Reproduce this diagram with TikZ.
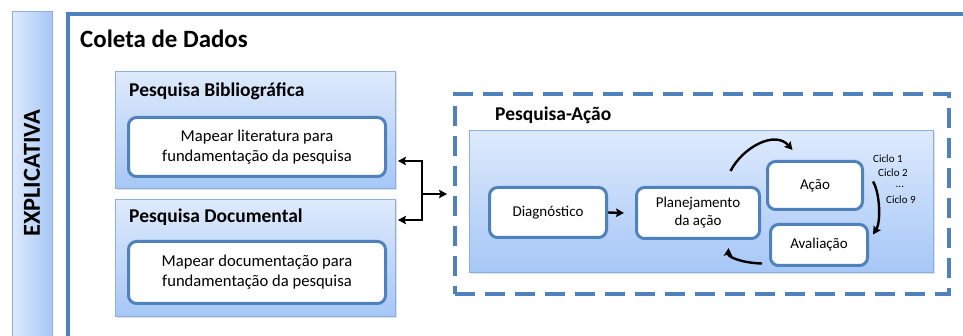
\documentclass[tikz,border=0pt]{standalone}
\usepackage{fontspec}
\setmainfont{Carlito}
\usetikzlibrary{arrows.meta,calc,shadows}
\definecolor{oblue}{RGB}{79,129,189}
\definecolor{lblue}{RGB}{141,176,222}
\definecolor{gtop}{RGB}{222,234,252}
\definecolor{gbot}{RGB}{166,199,246}
\newcommand{\myfs}[2]{\fontsize{#1pt}{#2pt}\selectfont}
\begin{document}
\begin{tikzpicture}[x=1pt,y=-1pt,
  panel/.style={draw=lblue, line width=1pt, top color=gtop, bottom color=gbot,
    drop shadow={shadow xshift=1.5pt, shadow yshift=-2pt, opacity=0.25},
    anchor=north west, inner sep=0pt},
  wbox/.style={draw=oblue, line width=3pt, fill=white, rounded corners=8pt,
    align=center, anchor=north west, inner sep=2pt},
  ttl/.style={anchor=base west, inner sep=0pt, font=\bfseries\myfs{19.5}{23}},
  body/.style={font=\myfs{16.6}{20}},
  small/.style={font=\myfs{15}{18}},
  cyc/.style={anchor=base west, inner sep=0pt, font=\myfs{11}{13}},
  arr/.style={-{Stealth[length=8pt,width=8.5pt,inset=1.5pt]}, line width=2.4pt, black}
]
\useasboundingbox (0,0) rectangle (963,336);

% left bar
\node[draw=lblue, line width=1pt, left color=gtop, right color=gbot, anchor=north west,
  minimum width=40pt, minimum height=340pt, inner sep=0pt] (expl) at (12,11) {};
\node[rotate=90, inner sep=0pt, font=\bfseries\myfs{24.4}{28}] (explt) at (32,173) {EXPLICATIVA};

% outer frame
\node[draw=oblue, line width=3.5pt, anchor=north west, minimum width=950pt,
  minimum height=360pt, inner sep=0pt] (coleta) at (66,12.5) {};
\node[anchor=base west, inner sep=0pt, font=\bfseries\myfs{24.9}{28}] (coletat) at (80,48) {Coleta de Dados};

% Pesquisa Bibliografica
\node[panel, minimum width=280pt, minimum height=117pt] (bib) at (115,71) {};
\node[ttl] (bibl) at (129,97) {Pesquisa Bibliográfica};
\node[wbox, body, minimum width=257pt, minimum height=59pt] (bibt) at (127,116)
  {Mapear literatura para\\fundamentação da pesquisa};

% Pesquisa Documental
\node[panel, minimum width=280pt, minimum height=117pt] (doc) at (115,199) {};
\node[ttl] (docl) at (129,223) {Pesquisa Documental};
\node[wbox, body, minimum width=257pt, minimum height=62pt] (doct) at (127,240)
  {Mapear documentação para\\fundamentação da pesquisa};

% Pesquisa-Acao dashed frame
\node[draw=oblue, line width=4pt, dash pattern=on 20pt off 10pt, anchor=north west,
  minimum width=494pt, minimum height=200pt, inner sep=0pt] (pa) at (453,92) {};
\node[ttl] (pal) at (495,121) {Pesquisa-Ação};
\node[panel, minimum width=464pt, minimum height=142pt] (pap) at (469,130) {};

\node[wbox, small, minimum width=117pt, minimum height=50pt] (diag) at (488,186) {Diagnóstico};
\node[wbox, small, minimum width=123pt, minimum height=51pt] (plan) at (635,186) {Planejamento\\da ação};
\node[wbox, small, minimum width=95pt, minimum height=48pt] (acao) at (766,160) {Ação};
\node[wbox, small, minimum width=97pt, minimum height=41pt] (aval) at (769,223) {Avaliação};

\node[cyc] (c1) at (873,163) {Ciclo 1};
\node[cyc] (c2) at (878,176.5) {Ciclo 2};
\node[cyc] (c3) at (895.5,188) {...};
\node[cyc] (c9) at (886,203.5) {Ciclo 9};

% connectors left
\coordinate (jn) at (422,194);
\draw[arr] (jn) |- ($(bib.east)+(2,31)$);
\draw[arr] (jn) |- ($(doc.east)+(2,-38)$);
\draw[arr] (jn) -- ($(pa.west |- jn)+(-6,0)$);

% cycle arrows
\draw[arr] (diag.east) -- ($(plan.west)+(-11,0)$);
\draw[arr] ($(plan.north)+(32.5,-15)$) .. controls (743,147) and (775,130) .. ($(acao.north)+(-22.5,-10)$);
\draw[arr] ($(acao.east)+(9,-4)$) .. controls (880,193) and (881,222) .. ($(aval.east)+(4,-10.5)$);
\draw[arr] ($(aval.west)+(-7,18.5)$) .. controls (742,263) and (728,257) .. ($(plan.south)+(30.5,8)$);
\end{tikzpicture}
\end{document}
